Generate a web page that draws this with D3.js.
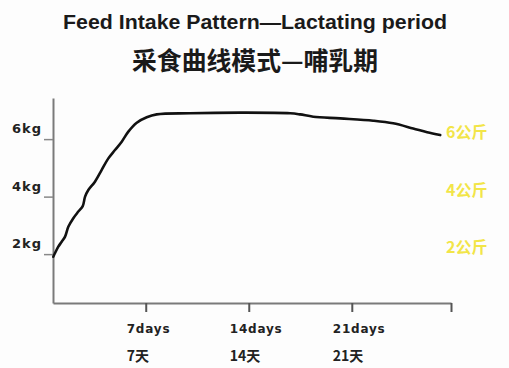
<!DOCTYPE html>
<html>
<head>
<meta charset="utf-8">
<script src="https://cdn.jsdelivr.net/npm/d3@7"></script>
<style>
  html, body { margin: 0; padding: 0; background: #fdfdfd; }
  svg { display: block; }
</style>
</head>
<body>
<figure id="chart" style="margin:0"></figure>
<script>
// days since farrowing
const days = [0.72, 0.84, 1.06, 1.29, 1.52, 1.74, 2.08, 2.42, 2.72, 2.88, 3.10, 3.55, 4.01, 4.46,
  4.91, 5.37, 5.82, 6.39, 7.07, 7.75, 10.01, 13.41, 16.81, 17.49, 18.38, 20.21, 22.45, 23.81,
  25.17, 26.12, 27.01];
// feed intake, kg / day
const intake = [1.91, 2.04, 2.26, 2.43, 2.61, 2.95, 3.25, 3.48, 3.67, 4.00, 4.23, 4.52, 4.93, 5.33,
  5.62, 5.91, 6.26, 6.57, 6.76, 6.86, 6.90, 6.92, 6.90, 6.86, 6.78, 6.72, 6.64, 6.55,
  6.37, 6.24, 6.14];

const dayTicks = [7, 14, 21];
const dayLabelsEn = ["7days", "14days", "21days"];
const dayLabelsCn = ["7天", "14天", "21天"];
const kgTicks = [6, 4, 2];
const kgLabelsEn = ["6kg", "4kg", "2kg"];
const kgLabelsCn = ["6公斤", "4公斤", "2公斤"];

const titleEn = "Feed Intake Pattern\u2014Lactating period";
const titleCn = "采食曲线模式\u2014哺乳期";

const width = 509, height = 368;

const svg = d3.select("#chart")
  .append("svg")
    .attr("width", width)
    .attr("height", height);

// titles
svg.append("text")
    .attr("x", 63)
    .attr("y", 29)
    .attr("textLength", 384)
    .attr("lengthAdjust", "spacingAndGlyphs")
    .style("font-family", "'Liberation Sans', Arial, sans-serif")
    .style("font-weight", "bold")
    .style("font-size", "21px")
    .style("fill", "#1a1a1a")
    .text(titleEn);

svg.append("text")
    .attr("x", 132)
    .attr("y", 70)
    .attr("textLength", 246)
    .attr("lengthAdjust", "spacingAndGlyphs")
    .style("font-family", "'Noto Sans CJK SC', sans-serif")
    .style("font-weight", "bold")
    .style("font-size", "25px")
    .style("fill", "#1a1a1a")
    .text(titleCn);

// scales
const x = d3.scaleLinear()
  .domain([0.7, 27.74])
  .range([53, 451]);

const y = d3.scaleLinear()
  .domain([0.3, 7.43])
  .range([303, 98]);

const axisColor = "#7a7a7a";

// x axis (last tick marks the end of the axis, no label)
const xAxis = svg.append("g")
    .attr("transform", "translate(0,303)")
    .call(d3.axisBottom(x)
      .tickValues(dayTicks.concat([x.domain()[1]]))
      .tickSize(9)
      .tickSizeOuter(0)
      .tickFormat(() => ""));
xAxis.select(".domain").attr("stroke", axisColor).attr("stroke-width", 2);
xAxis.selectAll(".tick line").attr("stroke", "#555").attr("stroke-width", 2);

// y axis
const yAxis = svg.append("g")
    .attr("transform", "translate(53,0)")
    .call(d3.axisLeft(y)
      .tickValues(kgTicks)
      .tickSize(9)
      .tickSizeOuter(0)
      .tickFormat(() => ""));
yAxis.select(".domain").attr("stroke", axisColor).attr("stroke-width", 2);
yAxis.selectAll(".tick line").attr("stroke", "#888").attr("stroke-width", 1.5);

// left kg labels
svg.selectAll(".kg-en")
  .data(kgTicks)
  .enter()
  .append("text")
    .attr("x", 12)
    .attr("y", d => y(d) - 6)
    .style("font-family", "'DejaVu Sans', sans-serif")
    .style("font-weight", "bold")
    .style("font-size", "13px")
    .style("letter-spacing", "1px")
    .style("fill", "#222")
    .text((d, i) => kgLabelsEn[i]);

// right yellow labels
svg.selectAll(".kg-cn")
  .data(kgTicks)
  .enter()
  .append("text")
    .attr("x", 446)
    .attr("y", d => y(d) - 1)
    .style("font-family", "'Noto Sans CJK SC', sans-serif")
    .style("font-weight", "bold")
    .style("font-size", "16px")
    .style("fill", "#f2e548")
    .text((d, i) => kgLabelsCn[i]);

// day labels
svg.selectAll(".day-en")
  .data(dayTicks)
  .enter()
  .append("text")
    .attr("x", d => x(d) - 19)
    .attr("y", 333)
    .style("font-family", "'DejaVu Sans', sans-serif")
    .style("font-weight", "bold")
    .style("font-size", "12px")
    .style("letter-spacing", "0.8px")
    .style("fill", "#222")
    .text((d, i) => dayLabelsEn[i]);

svg.selectAll(".day-cn")
  .data(dayTicks)
  .enter()
  .append("text")
    .attr("x", d => x(d) - 19)
    .attr("y", 361)
    .style("font-family", "'Noto Sans CJK SC', sans-serif")
    .style("font-weight", "bold")
    .style("font-size", "14px")
    .style("fill", "#222")
    .text((d, i) => dayLabelsCn[i]);

// intake curve
const line = d3.line()
  .x(d => x(d[0]))
  .y(d => y(d[1]))
  .curve(d3.curveCatmullRom);

svg.append("path")
    .datum(days.map((d, i) => [d, intake[i]]))
    .attr("d", line)
    .attr("fill", "none")
    .attr("stroke", "#111")
    .attr("stroke-width", 2.6)
    .attr("stroke-linecap", "round");
</script>
</body>
</html>
